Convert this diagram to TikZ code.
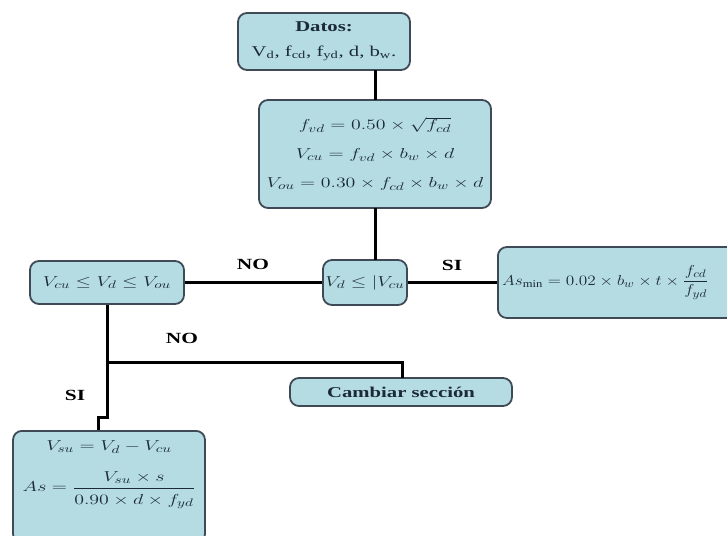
\documentclass[tikz,border=0pt]{standalone}
\usepackage{amsmath}
\usepackage{fontspec}
\usepackage{graphicx}
\setmainfont{Liberation Serif}
\newcommand{\sx}[1]{\scalebox{1.38}[1]{#1}}
\newcommand{\sxs}[1]{\scalebox{1.2}[1]{#1}}
\definecolor{boxfill}{HTML}{B5DCE3}
\definecolor{boxline}{HTML}{3E4A55}
\definecolor{txt}{HTML}{1B2A36}
\begin{document}
\begin{tikzpicture}[x=1pt,y=-1pt,
  box/.style={draw=boxline,line width=1.8pt,fill=boxfill,rounded corners=9pt,inner sep=0pt,
    text=txt,align=center,font=\fontsize{15}{25}\selectfont},
  inner/.style={inner sep=0pt,text=txt,font=\fontsize{15}{17}\selectfont},
  conn/.style={line width=3pt,black},
  lbl/.style={font=\fontsize{15.5}{17}\selectfont\bfseries,text=black}]
\useasboundingbox (0,0) rectangle (727,535);
\begin{scope}
\clip (0,0) rectangle (727,535);
\node[box,minimum width=172pt,minimum height=57pt] (datos) at (324,41.5)
  {\sx{\textbf{Datos:}}\\ \sx{V$_{\mathrm{d}}$, f$_{\mathrm{cd}}$, f$_{\mathrm{yd}}$, d, b$_{\mathrm{w}}$.}};
\node[box,minimum width=232pt,minimum height=108pt,font=\fontsize{15}{29}\selectfont] (calc) at (375,154)
  {\sx{$f_{vd}=0.50\times\sqrt{f_{cd}}$}\\
   \sx{$V_{cu}=f_{vd}\times b_w\times d$}\\
   \sx{$V_{ou}=0.30\times f_{cd}\times b_w\times d$}};
\node[box,minimum width=84pt,minimum height=45pt] (cond1) at (365,282.5)
  {\sx{$V_d\leq|V_{cu}$}};
\node[box,minimum width=250pt,minimum height=71pt,anchor=west] (asmin) at (497,282.5) {};
\node[inner,anchor=west] (asmintxt) at (502,282.5)
  {\sxs{$As_{\min}=0.02\times b_w\times t\times \dfrac{f_{cd}}{f_{yd}}$}};
\node[box,minimum width=154pt,minimum height=43pt] (cond2) at (107,282.5)
  {\sx{$V_{cu}\leq V_d\leq V_{ou}$}};
\node[box,minimum width=222pt,minimum height=28pt] (cambiar) at (401,392)
  {\sx{\textbf{Cambiar sección}}};
\node[box,minimum width=192pt,minimum height=112pt,anchor=north] (final) at (109,430) {};
\node[inner] (finalA) at (109,447) {\sx{$V_{su}=V_d-V_{cu}$}};
\node[inner] (finalB) at (109,490)
  {\sx{$As=\dfrac{V_{su}\times s\rule[-5pt]{0pt}{5pt}}{\rule{0pt}{14pt}0.90\times d\times f_{yd}}$}};
\end{scope}
\coordinate (j1) at (107,362);
\coordinate (j2) at (107,417);
\coordinate (j3) at (98,417);
\draw[conn] (375,70) -- (375,100);
\draw[conn] (375,208) -- (375,260);
\draw[conn] (cond2.east) -- (cond1.west);
\draw[conn] (cond1.east) -- (asmin.west);
\draw[conn] (cond2.south) -- (j2) -- (j3) -- (j3 |- final.north);
\draw[conn] (j1) -| (402,378);
\node[lbl] (no1) at (253,264) {\sx{NO}};
\node[lbl] (si1) at (452,265) {\sx{SI}};
\node[lbl] (no2) at (182,338) {\sx{NO}};
\node[lbl] (si2) at (75,395) {\sx{SI}};
\end{tikzpicture}
\end{document}
